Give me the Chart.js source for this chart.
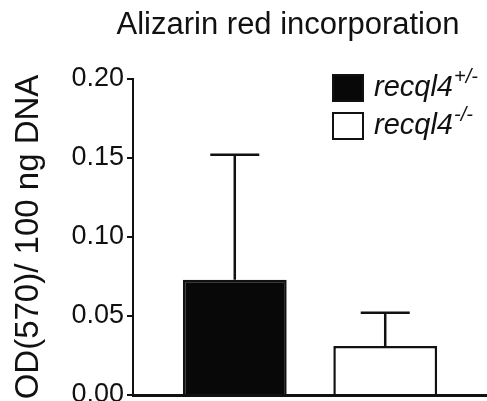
<!DOCTYPE html>
<html>
<head>
<meta charset="utf-8">
<script src="https://cdn.jsdelivr.net/npm/chart.js@4"></script>
<style>
  html, body { margin: 0; padding: 0; background: #fff; }
  #wrap { width: 487px; height: 401px; }
</style>
</head>
<body>
<div id="wrap"><canvas id="alizarinChart" width="487" height="401"></canvas></div>
<script>
const genes = ['recql4', 'recql4'];
const genotypes = ['+/-', '-/-'];
const means = [0.073, 0.031];
const errors = [0.079, 0.021];
const fills = ['#080808', '#ffffff'];
const yTicks = [0, 0.05, 0.10, 0.15, 0.20];
const chartTitle = 'Alizarin red incorporation';

const FONT = '"Liberation Sans", Arial, sans-serif';

// error bars drawn from the scale, mean + sd
const errorBars = {
    id: 'errorBars',
    afterDatasetsDraw(chart) {
        const ctx = chart.ctx;
        const y = chart.scales.y;
        ctx.save();
        ctx.strokeStyle = '#111';
        ctx.lineWidth = 2.5;
        chart.data.datasets.forEach((ds, i) => {
            const bar = chart.getDatasetMeta(i).data[0];
            const top = y.getPixelForValue(means[i] + errors[i]);
            ctx.beginPath();
            ctx.moveTo(bar.x, bar.y);
            ctx.lineTo(bar.x, top);
            ctx.moveTo(bar.x - 24.5, top);
            ctx.lineTo(bar.x + 24.5, top);
            ctx.stroke();
        });
        ctx.restore();
    }
};

// title + legend with superscript genotypes
const supLegend = {
    id: 'supLegend',
    afterDraw(chart) {
        const ctx = chart.ctx;
        ctx.save();
        ctx.fillStyle = '#111';
        ctx.textAlign = 'center';
        ctx.textBaseline = 'alphabetic';
        ctx.font = '31px ' + FONT;
        ctx.fillText(chartTitle, 288, 34);
        ctx.textAlign = 'left';
        genes.forEach((g, i) => {
            const bx = 333, by = 75 + i * 38;
            ctx.fillStyle = fills[i];
            ctx.fillRect(bx, by, 30, 26);
            ctx.strokeStyle = '#111';
            ctx.lineWidth = 2;
            ctx.strokeRect(bx, by, 30, 26);
            ctx.fillStyle = '#111';
            ctx.font = 'italic 29px ' + FONT;
            ctx.fillText(g, 374, by + 21);
            const w = ctx.measureText(g).width;
            ctx.font = 'italic 20px ' + FONT;
            ctx.fillText(genotypes[i], 374 + w + 1, by + 8);
        });
        ctx.restore();
    }
};

new Chart(document.getElementById('alizarinChart'), {
    type: 'bar',
    data: {
        labels: [''],
        datasets: genes.map((g, i) => ({
            label: g + genotypes[i],
            data: [means[i]],
            backgroundColor: fills[i],
            borderColor: '#111',
            borderWidth: 2.5,
            categoryPercentage: 0.85,
            barPercentage: 0.69
        }))
    },
    options: {
        responsive: false,
        animation: false,
        layout: { padding: { left: 0, right: 0, top: 79, bottom: 6 } },
        plugins: {
            legend: { display: false },
            tooltip: { enabled: false },
            title: { display: false }
        },
        scales: {
            x: {
                ticks: { display: false },
                grid: { display: false, drawTicks: false },
                border: { display: true, color: '#111', width: 3 },
                afterFit: (s) => { s.height = 0; }
            },
            y: {
                min: 0,
                max: 0.2,
                afterBuildTicks: (s) => { s.ticks = yTicks.map(v => ({ value: v })); },
                afterFit: (s) => { s.width = 133; s.paddingTop = 0; s.paddingBottom = 0; },
                ticks: {
                    color: '#111',
                    padding: 3,
                    font: { family: FONT, size: 27 },
                    callback: (v) => v.toFixed(2)
                },
                grid: { drawOnChartArea: false, tickLength: 6, color: '#111', lineWidth: 2 },
                border: { display: true, color: '#111', width: 2 },
                title: {
                    display: true,
                    text: 'OD(570)/ 100 ng DNA',
                    color: '#111',
                    font: { family: FONT, size: 33 },
                    padding: { top: 9, bottom: 0 }
                }
            }
        }
    },
    plugins: [errorBars, supLegend]
});
</script>
</body>
</html>
